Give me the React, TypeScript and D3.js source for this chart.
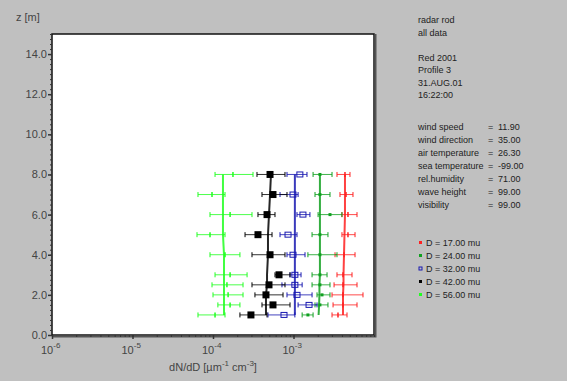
import { useEffect, useRef } from 'react';
import * as d3 from 'd3';

// heights of the measurement levels [m]
const heights = [1.0, 1.5, 2.0, 2.5, 3.0, 4.0, 5.0, 6.0, 7.0, 8.0];

// dN/dD per size class: value, lower and upper error, fitted profile
const d17 = [3.57e-3, 4.12e-3, 4.12e-3, 4.12e-3, 4.12e-3, 4.24e-3, 4.75e-3, 4.75e-3, 4.49e-3, 4.36e-3];
const d17Lo = [3.01e-3, 3.1e-3, 3.01e-3, 3.19e-3, 3.47e-3, 3.28e-3, 4.0e-3, 4.0e-3, 3.78e-3, 3.47e-3];
const d17Hi = [4.62e-3, 6.15e-3, 7.3e-3, 6.15e-3, 5.33e-3, 5.81e-3, 5.81e-3, 6.15e-3, 5.48e-3, 5.03e-3];
const d17Fit = [4.12e-3, 4.12e-3, 4.12e-3, 4.18e-3, 4.18e-3, 4.24e-3, 4.3e-3, 4.36e-3, 4.36e-3, 4.36e-3];

const d24 = [1.51e-3, 2.13e-3, 2.26e-3, 2.13e-3, 2.13e-3, 2.13e-3, 2.13e-3, 2.84e-3, 2.13e-3, 2.13e-3];
const d24Lo = [1.28e-3, 1.85e-3, 1.96e-3, 1.7e-3, 1.7e-3, 1.51e-3, 1.7e-3, 2.02e-3, 1.85e-3, 1.75e-3];
const d24Hi = [1.75e-3, 2.68e-3, 2.84e-3, 2.84e-3, 2.61e-3, 3.47e-3, 2.68e-3, 4.0e-3, 2.84e-3, 3.01e-3];
const d24Fit = [2.05e-3, 2.08e-3, 2.1e-3, 2.1e-3, 2.13e-3, 2.13e-3, 2.13e-3, 2.13e-3, 2.13e-3, 2.13e-3];

const d32 = [7.62e-4, 1.56e-3, 1.105e-3, 1.04e-3, 1.04e-3, 9.86e-4, 8.55e-4, 1.31e-3, 9.86e-4, 1.2e-3];
const d32Lo = [4.82e-4, 1.14e-3, 8.3e-4, 7.19e-4, 9.05e-4, 8.3e-4, 6.8e-4, 1.105e-3, 6.8e-4, 8.3e-4];
const d32Hi = [1.04e-3, 1.96e-3, 1.7e-3, 1.28e-3, 1.24e-3, 1.39e-3, 1.105e-3, 1.6e-3, 1.14e-3, 1.47e-3];
const d32Fit = [1.04e-3, 1.04e-3, 1.04e-3, 1.04e-3, 1.04e-3, 1.04e-3, 1.04e-3, 1.04e-3, 1.04e-3, 1.04e-3];

const d42 = [2.96e-4, 5.56e-4, 4.55e-4, 4.96e-4, 6.61e-4, 5.11e-4, 3.62e-4, 4.69e-4, 5.56e-4, 5.11e-4];
const d42Lo = [2.16e-4, 4.06e-4, 3.32e-4, 3.05e-4, 5.89e-4, 3.05e-4, 2.5e-4, 3.62e-4, 4.06e-4, 3.52e-4];
const d42Hi = [4.69e-4, 9.05e-4, 7.41e-4, 7.84e-4, 9.05e-4, 7.84e-4, 5.41e-4, 5.89e-4, 8.3e-4, 7.84e-4];
const d42Fit = [4.55e-4, 4.55e-4, 4.55e-4, 4.69e-4, 4.69e-4, 4.82e-4, 4.82e-4, 4.96e-4, 5.11e-4, 5.25e-4];

const d56 = [1.06e-4, 1.63e-4, 1.54e-4, 1.49e-4, 1.63e-4, 1.41e-4, 9.18e-5, 1.63e-4, 9.72e-5, 1.77e-4];
const d56Lo = [6.51e-5, 1.15e-4, 1.0e-4, 9.72e-5, 1.06e-4, 9.18e-5, 6.33e-5, 9.18e-5, 6.51e-5, 1.06e-4];
const d56Hi = [1.41e-4, 2.16e-4, 2.36e-4, 2.36e-4, 2.65e-4, 2.16e-4, 1.41e-4, 3.05e-4, 1.41e-4, 3.14e-4];
const d56Fit = [1.37e-4, 1.37e-4, 1.37e-4, 1.37e-4, 1.37e-4, 1.37e-4, 1.33e-4, 1.33e-4, 1.33e-4, 1.33e-4];

const legendLabels = ['D = 17.00 mu', 'D = 24.00 mu', 'D = 32.00 mu', 'D = 42.00 mu', 'D = 56.00 mu'];
const yTicks = [0, 2, 4, 6, 8, 10, 12, 14];
const xDecades = [-6, -5, -4, -3];

const headerLines = ['radar rod', 'all data', '', 'Red 2001', 'Profile 3', '31.AUG.01', '16:22:00'];
const paramNames = ['wind speed', 'wind direction', 'air temperature', 'sea temperature', 'rel.humidity', 'wave height', 'visibility'];
const paramValues = ['11.90', '35.00', '26.30', '-99.00', '71.00', '99.00', '99.00'];

const series = [
  { v: d17, lo: d17Lo, hi: d17Hi, fit: d17Fit, color: '#ff2020', mark: 'dot' },
  { v: d24, lo: d24Lo, hi: d24Hi, fit: d24Fit, color: '#10a020', mark: 'smallsq' },
  { v: d32, lo: d32Lo, hi: d32Hi, fit: d32Fit, color: '#1818b0', mark: 'opensq' },
  { v: d42, lo: d42Lo, hi: d42Hi, fit: d42Fit, color: '#000000', mark: 'bigsq' },
  { v: d56, lo: d56Lo, hi: d56Hi, fit: d56Fit, color: '#20ff20', mark: 'tick' },
];

const FONT = '"Liberation Sans", Arial, sans-serif';

export default function App() {
  const svgRef = useRef<SVGSVGElement>(null);

  useEffect(() => {
    if (!svgRef.current) return;
    const svg = d3.select(svgRef.current);
    svg.selectAll('*').remove();

    const left = 52, right = 374, top = 34, bottom = 335;
    const x = d3.scaleLog().domain([1e-6, 1e-2]).range([left, right]);
    const y = d3.scaleLinear().domain([0, 15]).range([bottom, top]);

    svg.append('rect').attr('width', 567).attr('height', 381).attr('fill', '#c0c0c0');

    // plot frame
    svg.append('rect')
      .attr('x', left).attr('y', top)
      .attr('width', right - left).attr('height', bottom - top)
      .attr('fill', '#fff').attr('stroke', '#111').attr('stroke-width', 1.5);
    svg.append('path')
      .attr('d', `M${right + 1.5},${top} V${bottom + 1.5} H${left}`)
      .attr('fill', 'none').attr('stroke', '#555').attr('stroke-width', 2);

    // y axis
    const yMinor = d3.range(0, 15.01, 0.25);
    svg.append('g')
      .attr('transform', `translate(${left},0)`)
      .call(d3.axisLeft(y).tickValues(yMinor).tickSize(2).tickFormat(() => ''))
      .call(g => g.select('.domain').remove())
      .selectAll('line').attr('stroke', '#333');
    const yAx = svg.append('g')
      .attr('transform', `translate(${left},0)`)
      .call(d3.axisLeft(y).tickValues(yTicks).tickSize(4).tickPadding(1).tickFormat(d => d3.format('.1f')(d as number)));
    yAx.select('.domain').remove();
    yAx.selectAll('line').attr('stroke', '#333').attr('stroke-width', 1.5);
    yAx.selectAll('text').attr('font-family', FONT).attr('font-size', 11).attr('fill', '#444');

    // x axis
    const xMinor: number[] = [];
    xDecades.concat([-2]).forEach(e => {
      for (let k = 1; k <= 9; k++) {
        const v = k * Math.pow(10, e);
        if (v <= 1e-2) xMinor.push(v);
      }
    });
    svg.append('g')
      .attr('transform', `translate(0,${bottom})`)
      .call(d3.axisBottom(x).tickValues(xMinor).tickSize(2).tickFormat(() => ''))
      .call(g => g.select('.domain').remove())
      .selectAll('line').attr('stroke', '#333');
    const xAx = svg.append('g')
      .attr('transform', `translate(0,${bottom})`)
      .call(d3.axisBottom(x).tickValues(xDecades.map(e => Math.pow(10, e))).tickSize(4).tickFormat(() => ''));
    xAx.select('.domain').remove();
    xAx.selectAll('line').attr('stroke', '#333').attr('stroke-width', 1.5);

    const xl = svg.append('g').attr('font-family', FONT).attr('fill', '#444');
    xDecades.forEach(e => {
      const t = xl.append('text')
        .attr('x', x(Math.pow(10, e)) - 11).attr('y', bottom + 19)
        .attr('font-size', 11);
      t.append('tspan').text('10');
      t.append('tspan').attr('dy', -6).attr('font-size', 8).text(String(e));
    });

    // axis titles
    svg.append('text').attr('x', 16).attr('y', 21)
      .attr('font-family', FONT).attr('font-size', 11).attr('fill', '#444').text('z [m]');
    const xt = svg.append('text').attr('x', 213).attr('y', 371).attr('text-anchor', 'middle')
      .attr('font-family', FONT).attr('font-size', 11).attr('fill', '#444');
    xt.append('tspan').text('dN/dD [µm');
    xt.append('tspan').attr('dy', -5).attr('font-size', 8).text('-1');
    xt.append('tspan').attr('dy', 5).text(' cm');
    xt.append('tspan').attr('dy', -5).attr('font-size', 8).text('-3');
    xt.append('tspan').attr('dy', 5).text(']');

    // data
    const plot = svg.append('g');
    const line = d3.line<number>().x(d => x(d)).y((_, i) => y(heights[i]));
    series.forEach(s => {
      const g = plot.append('g');
      g.append('path').attr('d', line(s.fit)).attr('fill', 'none')
        .attr('stroke', s.color).attr('stroke-width', 2).attr('opacity', 0.85);
      heights.forEach((h, i) => {
        const yy = y(h);
        g.append('line').attr('x1', x(s.lo[i])).attr('x2', x(s.hi[i]))
          .attr('y1', yy).attr('y2', yy).attr('stroke', s.color).attr('stroke-width', 1).attr('opacity', 0.8);
        [s.lo[i], s.hi[i]].forEach(v => {
          g.append('line').attr('x1', x(v)).attr('x2', x(v))
            .attr('y1', yy - 2.5).attr('y2', yy + 2.5).attr('stroke', s.color).attr('stroke-width', 1);
        });
        const cx = x(s.v[i]);
        if (s.mark === 'bigsq') {
          g.append('rect').attr('x', cx - 3.5).attr('y', yy - 3.5).attr('width', 7).attr('height', 7).attr('fill', s.color);
        } else if (s.mark === 'opensq') {
          g.append('rect').attr('x', cx - 3).attr('y', yy - 2.5).attr('width', 6).attr('height', 5)
            .attr('fill', 'none').attr('stroke', s.color).attr('stroke-width', 1);
        } else if (s.mark === 'smallsq') {
          g.append('rect').attr('x', cx - 1.5).attr('y', yy - 1.5).attr('width', 3).attr('height', 3).attr('fill', s.color);
        } else {
          g.append('line').attr('x1', cx).attr('x2', cx).attr('y1', yy - 2.5).attr('y2', yy + 2.5)
            .attr('stroke', s.color).attr('stroke-width', 1.5);
        }
      });
    });

    // info panel
    const info = svg.append('g').attr('font-family', FONT).attr('font-size', 9).attr('fill', '#222');
    headerLines.forEach((t, i) => {
      if (t) info.append('text').attr('x', 418).attr('y', 23 + i * 12.5).text(t);
    });
    paramNames.forEach((t, i) => {
      const yy = 130 + i * 13;
      info.append('text').attr('x', 418).attr('y', yy).text(t);
      info.append('text').attr('x', 488).attr('y', yy).text('=');
      info.append('text').attr('x', 498).attr('y', yy).text(paramValues[i]);
    });
    legendLabels.forEach((t, i) => {
      const yy = 246 + i * 13;
      const s = series[i];
      info.append('rect').attr('x', 419).attr('y', yy - 5).attr('width', 3).attr('height', 3)
        .attr('fill', s.mark === 'opensq' ? 'none' : s.color)
        .attr('stroke', s.mark === 'opensq' ? s.color : 'none');
      info.append('text').attr('x', 426).attr('y', yy).text(t);
    });
  }, []);

  return (
    <>
      <style>{'body{margin:0}'}</style>
      <svg ref={svgRef} width={567} height={381} style={{ display: 'block' }} />
    </>
  );
}
